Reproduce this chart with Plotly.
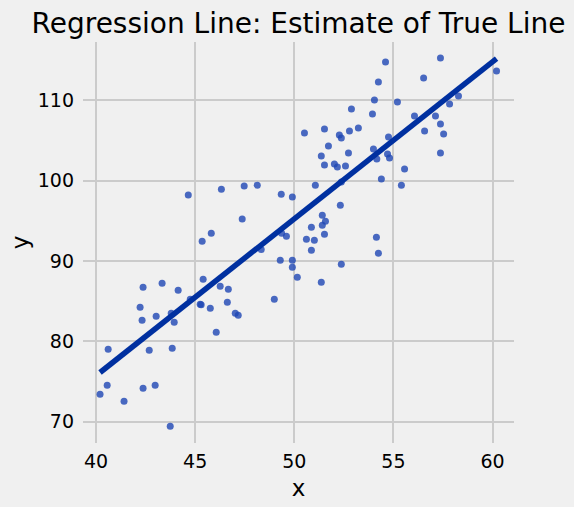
import plotly.graph_objects as go

# Scatter data
x_vals = [44.65, 46.32, 47.47, 48.13, 49.34, 49.90, 47.37, 45.81, 45.35, 49.36,
          49.60, 50.51, 51.52, 54.60, 54.24, 54.04, 52.88, 53.94, 55.20, 57.37,
          56.52, 60.20, 58.28, 57.83, 56.06, 57.12, 57.37, 56.57, 57.53, 57.37,
          53.23, 52.78, 52.27, 52.37, 51.72, 51.36, 51.52, 52.02, 52.17, 52.58,
          52.73, 54.75, 53.99, 54.16, 54.70, 54.80, 55.56, 54.39, 55.40, 51.06,
          52.37, 52.32, 51.41, 51.57, 51.41, 50.86, 50.61, 51.01, 51.52, 54.14,
          48.33, 49.29, 49.90, 49.90, 50.15, 48.99, 42.37, 43.33, 44.14, 45.40,
          46.26, 46.67, 44.75, 45.25, 45.30, 45.76, 46.62, 47.02, 47.17, 46.06,
          42.22, 42.32, 43.03, 43.79, 43.94, 40.61, 42.68, 43.84, 40.56, 40.20,
          41.41, 42.37, 42.98, 43.74, 50.86, 54.24, 52.37, 51.36]
y_vals = [98.19, 98.93, 99.31, 99.43, 98.31, 97.94, 95.20, 93.45, 92.45, 93.45,
          93.08, 105.91, 106.41, 114.76, 112.27, 110.02, 108.90, 108.28, 109.78, 115.26,
          112.77, 113.64, 110.52, 109.53, 108.03, 108.03, 107.03, 106.16, 105.79, 103.42,
          106.54, 106.16, 105.66, 105.29, 104.29, 103.05, 101.93, 102.05, 101.68, 101.80,
          103.42, 105.41, 103.92, 102.67, 103.30, 102.80, 101.43, 100.18, 99.43, 99.43,
          99.81, 96.94, 95.69, 94.95, 94.45, 94.20, 92.70, 92.58, 93.33, 92.95,
          91.41, 90.09, 90.09, 89.21, 87.97, 85.23, 86.72, 87.22, 86.35, 87.72,
          86.85, 86.47, 85.23, 84.60, 84.54, 84.11, 84.85, 83.48, 83.23, 81.12,
          84.23, 82.61, 83.11, 83.48, 82.36, 79.00, 78.87, 79.12, 74.51, 73.39,
          72.52, 74.14, 74.51, 69.40, 91.33, 90.96, 89.59, 87.35]

# Regression line end points
line_x = [40.20, 60.20]
line_y = [76.11, 115.17]

x_ticks = [40, 45, 50, 55, 60]
y_ticks = [70, 80, 90, 100, 110]

title_text = "Regression Line: Estimate of True Line"
x_label = "x"
y_label = "y"

BG = "#f0f0f0"
FONT = "DejaVu Sans"

fig = go.Figure()
fig.add_trace(go.Scatter(
    x=x_vals, y=y_vals, mode="markers",
    marker=dict(size=7, color="rgba(30,70,180,0.8)", line=dict(width=0)),
    showlegend=False, hoverinfo="skip"))
fig.add_trace(go.Scatter(
    x=line_x, y=line_y, mode="lines",
    line=dict(color="#0030a0", width=5.5),
    showlegend=False, hoverinfo="skip"))

W, H = 574, 507
fig.update_layout(
    width=W, height=H, autosize=False,
    paper_bgcolor=BG, plot_bgcolor=BG,
    margin=dict(l=83, r=60, t=42, b=64, pad=0),
    font=dict(family=FONT, color="#000000", size=19),
    title=dict(text=title_text, x=(83 + 514) / 2 / W, xanchor="center",
               y=1 - 23 / H, yanchor="middle", yref="container",
               font=dict(family=FONT, size=28, color="#000000")),
)
fig.update_xaxes(
    range=[39.34, 61.08], tickvals=x_ticks, ticktext=[str(t) for t in x_ticks],
    showgrid=True, gridcolor="#cbcbcb", gridwidth=1.5, zeroline=False,
    showline=False, ticks="", ticklabelstandoff=5,
    tickfont=dict(family=FONT, size=19, color="#000000"),
    title=dict(text=x_label, font=dict(family=FONT, size=23, color="#000000"), standoff=8),
)
fig.update_yaxes(
    range=[67.33, 117.25], tickvals=y_ticks, ticktext=[str(t) for t in y_ticks],
    showgrid=True, gridcolor="#cbcbcb", gridwidth=1.5, zeroline=False,
    showline=False, ticks="", ticklabelstandoff=8,
    tickfont=dict(family=FONT, size=19, color="#000000"),
    title=dict(text=y_label, font=dict(family=FONT, size=23, color="#000000"), standoff=2),
)

fig.write_html(
    "out.html",
    config={"displayModeBar": False},
    post_script="document.body.style.margin='0';document.body.style.padding='0';"
                "document.body.style.background='" + BG + "';",
)
